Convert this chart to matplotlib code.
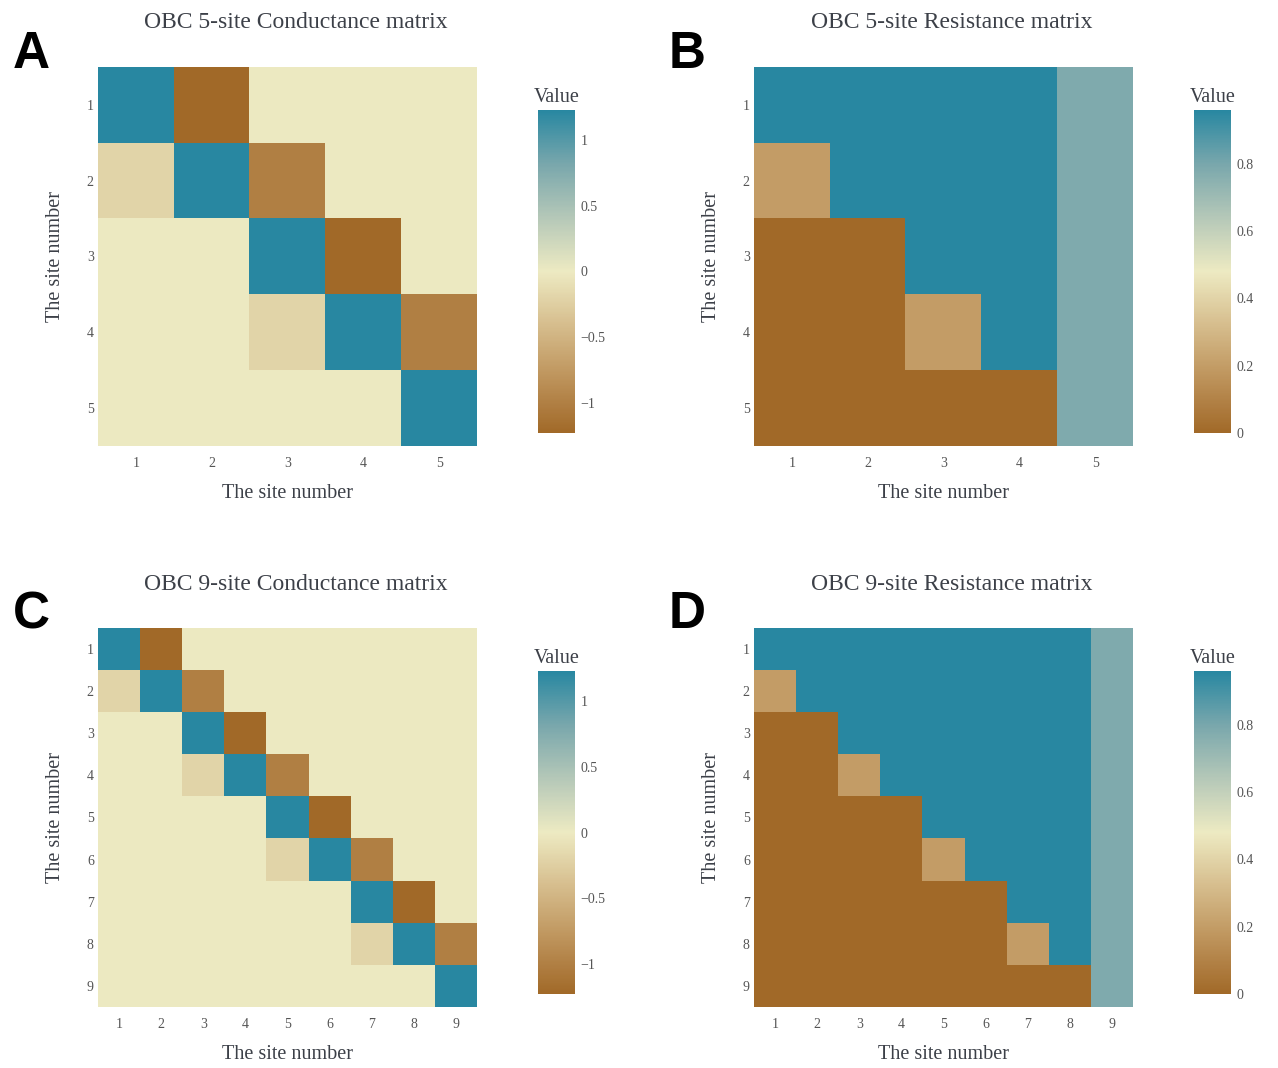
import numpy as np
import matplotlib.pyplot as plt
from matplotlib.colors import LinearSegmentedColormap

# carto "Earth" scale
EARTH = ["#a16928", "#bd925a", "#d6bd8d", "#edeac2", "#b5c8b8", "#79a7ac", "#2887a1"]
cmap = LinearSegmentedColormap.from_list("earth", EARTH)

sites5 = [1, 2, 3, 4, 5]
sites9 = [1, 2, 3, 4, 5, 6, 7, 8, 9]

cond5 = [[1.23, -1.23, 0, 0, 0],
         [-0.2, 1.23, -1.0, 0, 0],
         [0, 0, 1.23, -1.23, 0],
         [0, 0, -0.2, 1.23, -1.0],
         [0, 0, 0, 0, 1.23]]

res5 = [[0.96, 0.96, 0.96, 0.96, 0.78],
        [0.2, 0.96, 0.96, 0.96, 0.78],
        [0, 0, 0.96, 0.96, 0.78],
        [0, 0, 0.2, 0.96, 0.78],
        [0, 0, 0, 0, 0.78]]

cond9 = [[1.23, -1.23, 0, 0, 0, 0, 0, 0, 0],
         [-0.2, 1.23, -1.0, 0, 0, 0, 0, 0, 0],
         [0, 0, 1.23, -1.23, 0, 0, 0, 0, 0],
         [0, 0, -0.2, 1.23, -1.0, 0, 0, 0, 0],
         [0, 0, 0, 0, 1.23, -1.23, 0, 0, 0],
         [0, 0, 0, 0, -0.2, 1.23, -1.0, 0, 0],
         [0, 0, 0, 0, 0, 0, 1.23, -1.23, 0],
         [0, 0, 0, 0, 0, 0, -0.2, 1.23, -1.0],
         [0, 0, 0, 0, 0, 0, 0, 0, 1.23]]

res9 = [[0.96, 0.96, 0.96, 0.96, 0.96, 0.96, 0.96, 0.96, 0.78],
        [0.2, 0.96, 0.96, 0.96, 0.96, 0.96, 0.96, 0.96, 0.78],
        [0, 0, 0.96, 0.96, 0.96, 0.96, 0.96, 0.96, 0.78],
        [0, 0, 0.2, 0.96, 0.96, 0.96, 0.96, 0.96, 0.78],
        [0, 0, 0, 0, 0.96, 0.96, 0.96, 0.96, 0.78],
        [0, 0, 0, 0, 0.2, 0.96, 0.96, 0.96, 0.78],
        [0, 0, 0, 0, 0, 0, 0.96, 0.96, 0.78],
        [0, 0, 0, 0, 0, 0, 0.2, 0.96, 0.78],
        [0, 0, 0, 0, 0, 0, 0, 0, 0.78]]

cond_ticks = [-1, -0.5, 0, 0.5, 1]
cond_labels = ["\u22121", "\u22120.5", "0", "0.5", "1"]
res_ticks = [0, 0.2, 0.4, 0.6, 0.8]
res_labels = ["0", "0.2", "0.4", "0.6", "0.8"]

SERIF = "Liberation Serif"
TXT = "#3c4048"
TICK = "#555555"

W, H = 1278, 1068
fig = plt.figure(figsize=(W / 100, H / 100), dpi=100)


def fx(px):
    return px / W


def fy(py):
    return 1 - py / H


def panel(letter, title, data, sites, vmin, vmax, cticks, clabels, x0, y0):
    # x0, y0: top-left pixel of the heatmap
    size = 379
    ax = fig.add_axes([fx(x0), fy(y0 + size), size / W, size / H])
    n = len(sites)
    ax.imshow(np.array(data), cmap=cmap, vmin=vmin, vmax=vmax, aspect="auto",
              extent=(0.5, n + 0.5, n + 0.5, 0.5), interpolation="nearest")
    ax.set_xticks(sites)
    ax.set_yticks(sites)
    ax.set_xticklabels(sites, family=SERIF, fontsize=10, color=TICK)
    ax.set_yticklabels(sites, family=SERIF, fontsize=10, color=TICK)
    ax.tick_params(axis="x", length=0, pad=8)
    ax.tick_params(axis="y", length=0, pad=3)
    for s in ax.spines.values():
        s.set_visible(False)
    ax.set_xlabel("The site number", family=SERIF, fontsize=14.5, color=TXT, labelpad=10)
    ax.set_ylabel("The site number", family=SERIF, fontsize=14.5, color=TXT, labelpad=16)

    fig.text(fx(x0 + 198), fy(y0 - 44), title, family=SERIF, fontsize=17,
             color=TXT, ha="center", va="center")
    fig.text(fx(x0 - 67), fy(y0 - 13), letter, family="Liberation Sans",
             fontweight="bold", fontsize=37, ha="center", va="center")

    cax = fig.add_axes([fx(x0 + 440), fy(y0 + 366), 37 / W, 323 / H])
    sm = plt.cm.ScalarMappable(cmap=cmap, norm=plt.Normalize(vmin, vmax))
    cb = fig.colorbar(sm, cax=cax)
    cb.outline.set_visible(False)
    cb.set_ticks(cticks)
    cb.set_ticklabels(clabels)
    for t in cax.get_yticklabels():
        t.set_family(SERIF)
        t.set_fontsize(10)
        t.set_color(TICK)
    cax.tick_params(length=0, pad=4)
    cax.set_title("Value", family=SERIF, fontsize=14.5, color=TXT, pad=6)


panel("A", "OBC 5-site Conductance matrix", cond5, sites5, -1.23, 1.23,
      cond_ticks, cond_labels, 98, 67)
panel("B", "OBC 5-site Resistance matrix", res5, sites5, 0, 0.96,
      res_ticks, res_labels, 754, 67)
panel("C", "OBC 9-site Conductance matrix", cond9, sites9, -1.23, 1.23,
      cond_ticks, cond_labels, 98, 628)
panel("D", "OBC 9-site Resistance matrix", res9, sites9, 0, 0.96,
      res_ticks, res_labels, 754, 628)

fig.savefig("out.png", dpi=100)
